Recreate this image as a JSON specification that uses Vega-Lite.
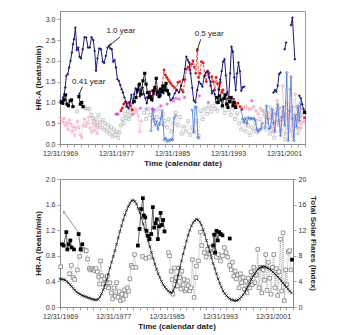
{
"$schema":"https://vega.github.io/schema/vega-lite/v6.json",
"padding":{"left":33,"top":10,"right":5,"bottom":0},
"spacing":6,
"config":{"font":"Liberation Sans","view":{"stroke":"#9a9a9a","strokeWidth":1},
"axis":{"grid":false,"labelFontSize":7,"labelColor":"#333333","titleFontSize":8,"titleFontWeight":"bold","titleColor":"#222222","domainColor":"#8a8a8a","tickColor":"#8a8a8a","tickSize":3,"labelPadding":2,"titlePadding":3,"tickWidth":0.8}},
"datasets":{
"tnavy":[
{"x":1970.1,"y":1.04,"g":1},{"x":1970.3,"y":1.02,"g":1},{"x":1970.45,"y":1.12,"g":1},{"x":1970.6,"y":1.2,"g":1},{"x":1970.75,"y":1.36,"g":1},{"x":1970.9,"y":1.64,"g":1},{"x":1971.1,"y":1.68,"g":1},{"x":1971.3,"y":1.84,"g":1},{"x":1971.5,"y":2.0,"g":1},{"x":1971.7,"y":2.2,"g":1},{"x":1971.85,"y":2.4,"g":1},{"x":1972.0,"y":2.52,"g":1},{"x":1972.2,"y":2.8,"g":1},{"x":1972.4,"y":2.26,"g":1},{"x":1972.6,"y":2.32,"g":1},{"x":1972.8,"y":2.1,"g":1},{"x":1973.0,"y":2.06,"g":1},{"x":1973.25,"y":2.28,"g":1},{"x":1973.5,"y":2.57,"g":1},{"x":1973.75,"y":2.56,"g":1},{"x":1974.0,"y":2.32,"g":1},{"x":1974.25,"y":2.32,"g":1},{"x":1974.5,"y":2.57,"g":1},{"x":1974.75,"y":2.5,"g":1},{"x":1974.95,"y":2.24,"g":1},{"x":1975.15,"y":1.76,"g":1},{"x":1975.35,"y":2.06,"g":1},{"x":1975.6,"y":2.3,"g":1},{"x":1975.85,"y":2.28,"g":1},{"x":1976.1,"y":1.98,"g":1},{"x":1976.3,"y":1.95,"g":1},{"x":1976.55,"y":2.12,"g":1},{"x":1976.8,"y":2.32,"g":1},{"x":1977.0,"y":2.36,"g":1},{"x":1977.2,"y":2.3,"g":1},{"x":1977.4,"y":2.28,"g":1},{"x":1977.6,"y":1.98,"g":1},{"x":1977.8,"y":2.02,"g":1},{"x":1978.0,"y":1.84,"g":1},{"x":1978.2,"y":1.56,"g":1},{"x":1978.4,"y":1.52,"g":1},{"x":1978.6,"y":1.42,"g":1},{"x":1978.8,"y":1.32,"g":1},{"x":1979.0,"y":1.24,"g":1},{"x":1979.2,"y":1.12,"g":1},{"x":1979.4,"y":1.02,"g":1},{"x":1979.6,"y":0.9,"g":1},{"x":1979.8,"y":0.86,"g":1},{"x":1980.0,"y":1.0,"g":1},{"x":1980.2,"y":1.18,"g":1},{"x":1980.4,"y":0.98,"g":1},{"x":1980.6,"y":1.2,"g":1},{"x":1980.8,"y":1.34,"g":1},{"x":1981.0,"y":1.24,"g":1},{"x":1981.2,"y":1.42,"g":1},{"x":1981.4,"y":1.14,"g":1},{"x":1981.6,"y":1.3,"g":1},{"x":1981.8,"y":1.36,"g":1},{"x":1982.0,"y":1.2,"g":1},{"x":1982.2,"y":1.1,"g":1},{"x":1982.4,"y":0.98,"g":1},{"x":1982.6,"y":1.12,"g":1},{"x":1982.8,"y":1.26,"g":1},{"x":1983.0,"y":1.06,"g":1},{"x":1983.2,"y":1.04,"g":1},{"x":1983.4,"y":1.2,"g":1},{"x":1983.6,"y":1.34,"g":1},{"x":1983.8,"y":1.18,"g":1},{"x":1984.0,"y":1.24,"g":1},{"x":1984.2,"y":1.3,"g":1},{"x":1984.4,"y":1.16,"g":1},{"x":1984.6,"y":1.36,"g":1},{"x":1984.8,"y":1.22,"g":1},{"x":1985.0,"y":1.4,"g":1},{"x":1985.2,"y":1.28,"g":1},{"x":1985.5,"y":1.2,"g":1},{"x":1985.8,"y":1.05,"g":1},{"x":1986.1,"y":1.1,"g":1},{"x":1986.4,"y":1.22,"g":1},{"x":1986.7,"y":1.3,"g":1},{"x":1987.0,"y":1.24,"g":1},{"x":1987.3,"y":1.4,"g":1},{"x":1987.6,"y":1.55,"g":1},{"x":1987.85,"y":1.8,"g":1},{"x":1988.05,"y":2.1,"g":1},{"x":1988.25,"y":2.02,"g":1},{"x":1988.45,"y":1.96,"g":1},{"x":1988.65,"y":1.7,"g":1},{"x":1988.9,"y":1.35,"g":1},{"x":1989.1,"y":1.05,"g":1},{"x":1989.35,"y":1.0,"g":1},{"x":1989.6,"y":1.3,"g":1},{"x":1989.85,"y":1.5,"g":1},{"x":1990.1,"y":1.45,"g":1},{"x":1990.35,"y":1.38,"g":1},{"x":1990.6,"y":1.62,"g":1},{"x":1990.85,"y":1.72,"g":1},{"x":1991.1,"y":1.75,"g":1},{"x":1991.3,"y":1.6,"g":1},{"x":1991.5,"y":1.5,"g":1},{"x":1991.7,"y":1.22,"g":1},{"x":1991.9,"y":1.28,"g":1},{"x":1992.1,"y":1.2,"g":1},{"x":1992.3,"y":1.0,"g":1},{"x":1992.5,"y":0.98,"g":1},{"x":1992.7,"y":1.3,"g":1},{"x":1992.9,"y":1.55,"g":1},{"x":1993.1,"y":1.75,"g":1},{"x":1993.3,"y":1.98,"g":1},{"x":1993.5,"y":2.04,"g":1},{"x":1993.7,"y":1.65,"g":1},{"x":1993.9,"y":1.25,"g":1},{"x":1994.1,"y":1.1,"g":1},{"x":1994.3,"y":1.7,"g":1},{"x":1994.5,"y":2.34,"g":1},{"x":1994.7,"y":2.22,"g":1},{"x":1994.9,"y":1.6,"g":1},{"x":1995.1,"y":1.3,"g":1},{"x":1995.3,"y":1.7,"g":1},{"x":1995.5,"y":1.96,"g":1},{"x":1995.7,"y":1.75,"g":1},{"x":1995.9,"y":1.28,"g":1},{"x":1996.1,"y":1.36,"g":1},{"x":1996.3,"y":1.38,"g":1},
{"x":2000.5,"y":1.24,"g":2},{"x":2000.7,"y":1.3,"g":2},{"x":2000.9,"y":1.26,"g":2},{"x":2001.1,"y":1.4,"g":2},{"x":2001.3,"y":1.68,"g":2},{"x":2001.5,"y":1.72,"g":2},
{"x":2002.1,"y":2.28,"g":3},{"x":2002.3,"y":2.44,"g":3},
{"x":2003.0,"y":2.86,"g":4},{"x":2003.2,"y":3.04,"g":4},{"x":2003.55,"y":2.04,"g":4},
{"x":2004.2,"y":1.16,"g":5},{"x":2004.4,"y":1.1,"g":5},{"x":2004.6,"y":0.95,"g":5},{"x":2004.8,"y":0.84,"g":5},{"x":2004.95,"y":0.78,"g":5}],
"tblack":[
{"x":1970.2,"y":1.0,"g":1},{"x":1970.4,"y":0.98,"g":1},{"x":1970.6,"y":1.06,"g":1},{"x":1970.8,"y":1.18,"g":1},{"x":1971.0,"y":0.96,"g":1},{"x":1971.2,"y":0.92,"g":1},{"x":1971.45,"y":1.04,"g":1},{"x":1971.65,"y":1.06,"g":1},{"x":1971.85,"y":0.9,"g":1},
{"x":1972.7,"y":1.14,"g":2},{"x":1972.9,"y":0.96,"g":2},{"x":1973.1,"y":1.0,"g":2},{"x":1973.3,"y":0.9,"g":2},
{"x":1980.6,"y":1.02,"g":3},{"x":1980.85,"y":1.12,"g":3},{"x":1981.1,"y":1.3,"g":3},{"x":1981.35,"y":1.44,"g":3},{"x":1981.6,"y":1.2,"g":3},{"x":1981.85,"y":1.52,"g":3},{"x":1982.1,"y":1.7,"g":3},{"x":1982.3,"y":1.44,"g":3},{"x":1982.5,"y":1.24,"g":3},{"x":1982.7,"y":1.12,"g":3},{"x":1982.9,"y":1.14,"g":3},{"x":1983.1,"y":1.08,"g":3},{"x":1983.35,"y":1.28,"g":3},{"x":1983.55,"y":1.36,"g":3},{"x":1983.75,"y":1.58,"g":3},{"x":1983.95,"y":1.24,"g":3},{"x":1984.15,"y":1.14,"g":3},{"x":1984.35,"y":1.32,"g":3},{"x":1984.55,"y":1.26,"g":3},{"x":1984.75,"y":1.4,"g":3},{"x":1984.95,"y":1.3,"g":3},{"x":1985.15,"y":1.46,"g":3},{"x":1985.35,"y":1.28,"g":3},{"x":1985.55,"y":1.2,"g":3},
{"x":1992.4,"y":1.12,"g":4},{"x":1992.6,"y":1.0,"g":4},{"x":1992.8,"y":1.16,"g":4},{"x":1993.0,"y":1.06,"g":4},{"x":1993.2,"y":0.92,"g":4},{"x":1993.4,"y":1.1,"g":4},{"x":1993.6,"y":1.18,"g":4},{"x":1993.8,"y":0.96,"g":4},{"x":1994.0,"y":0.88,"g":4},{"x":1994.2,"y":1.02,"g":4},{"x":1994.45,"y":1.12,"g":4},{"x":1994.7,"y":0.92,"g":4},{"x":1994.9,"y":1.0,"g":4},{"x":1995.1,"y":0.88,"g":4},
{"x":2004.95,"y":0.76,"g":5}],
"tred":[
{"x":1978.7,"y":0.8,"g":1},{"x":1978.9,"y":0.86,"g":1},{"x":1979.1,"y":0.96,"g":1},{"x":1979.3,"y":1.0,"g":1},{"x":1979.5,"y":0.9,"g":1},{"x":1979.7,"y":0.98,"g":1},{"x":1979.9,"y":1.0,"g":1},{"x":1980.1,"y":0.92,"g":1},{"x":1980.3,"y":0.82,"g":1},
{"x":1982.5,"y":1.12,"g":2},{"x":1982.8,"y":1.2,"g":2},{"x":1983.1,"y":1.28,"g":2},{"x":1983.4,"y":1.22,"g":2},{"x":1983.7,"y":1.3,"g":2},{"x":1984.0,"y":1.25,"g":2},{"x":1984.3,"y":1.2,"g":2},{"x":1984.6,"y":1.4,"g":2},{"x":1984.85,"y":1.78,"g":2},{"x":1985.05,"y":1.66,"g":2},{"x":1985.25,"y":1.6,"g":2},{"x":1985.45,"y":1.55,"g":2},{"x":1985.65,"y":1.5,"g":2},{"x":1985.85,"y":1.45,"g":2},{"x":1986.1,"y":1.4,"g":2},{"x":1986.35,"y":1.36,"g":2},{"x":1986.6,"y":1.3,"g":2},{"x":1986.85,"y":1.48,"g":2},{"x":1987.1,"y":1.5,"g":2},{"x":1987.35,"y":1.3,"g":2},{"x":1987.6,"y":1.25,"g":2},{"x":1987.85,"y":1.55,"g":2},{"x":1988.05,"y":1.8,"g":2},{"x":1988.3,"y":1.85,"g":2},{"x":1988.55,"y":1.78,"g":2},{"x":1988.8,"y":1.92,"g":2},{"x":1989.0,"y":2.0,"g":2},{"x":1989.2,"y":1.85,"g":2},{"x":1989.4,"y":1.7,"g":2},{"x":1989.6,"y":2.25,"g":2},{"x":1989.8,"y":1.6,"g":2},{"x":1990.0,"y":1.7,"g":2},{"x":1990.2,"y":1.98,"g":2},{"x":1990.45,"y":1.95,"g":2},{"x":1990.7,"y":1.65,"g":2},{"x":1990.9,"y":1.5,"g":2},{"x":1991.1,"y":1.75,"g":2},{"x":1991.3,"y":1.7,"g":2},{"x":1991.5,"y":1.4,"g":2},{"x":1991.7,"y":1.62,"g":2},{"x":1991.9,"y":1.5,"g":2},{"x":1992.1,"y":1.3,"g":2},{"x":1992.3,"y":1.6,"g":2},{"x":1992.5,"y":1.45,"g":2},{"x":1992.7,"y":1.32,"g":2},{"x":1992.9,"y":1.48,"g":2},{"x":1993.1,"y":1.24,"g":2},{"x":1993.3,"y":1.3,"g":2},{"x":1993.5,"y":1.1,"g":2},{"x":1993.7,"y":1.2,"g":2},{"x":1993.9,"y":1.08,"g":2},{"x":1994.2,"y":1.12,"g":2},{"x":1994.5,"y":1.0,"g":2},{"x":1994.8,"y":1.08,"g":2},{"x":1995.1,"y":0.92,"g":2},{"x":1995.4,"y":0.98,"g":2},{"x":1995.7,"y":0.9,"g":2},{"x":1996.0,"y":0.84,"g":2},
{"x":2004.95,"y":0.63,"g":3}],
"tmag":[
{"x":1978.0,"y":0.72},{"x":1978.15,"y":0.72},{"x":1978.3,"y":0.72},{"x":1980.4,"y":0.72},{"x":1981.5,"y":0.86},{"x":1983.2,"y":0.84},{"x":1983.45,"y":0.82},{"x":1984.4,"y":0.92},{"x":1985.3,"y":0.96},{"x":1986.2,"y":1.04},{"x":1986.55,"y":1.1},{"x":1987.0,"y":1.08},{"x":1987.8,"y":1.12},{"x":1989.9,"y":1.16},{"x":1991.2,"y":1.0},{"x":1997.4,"y":1.04}],
"tblue":[
{"x":1982.3,"y":0.84,"g":0},
{"x":1983.0,"y":0.32,"g":1},{"x":1983.2,"y":0.85,"g":1},{"x":1983.4,"y":0.6,"g":1},{"x":1983.6,"y":0.45,"g":1},{"x":1983.8,"y":0.55,"g":1},{"x":1984.0,"y":0.35,"g":1},{"x":1984.2,"y":0.48,"g":1},{"x":1984.4,"y":0.62,"g":1},{"x":1984.6,"y":0.8,"g":1},{"x":1984.75,"y":0.45,"g":1},{"x":1984.9,"y":0.1,"g":1},{"x":1985.1,"y":0.14,"g":1},{"x":1985.3,"y":0.06,"g":1},{"x":1985.5,"y":0.1,"g":1},{"x":1985.7,"y":0.08,"g":1},{"x":1985.9,"y":0.12,"g":1},{"x":1986.1,"y":0.1,"g":1},{"x":1986.3,"y":0.62,"g":1},{"x":1986.5,"y":0.68,"g":1},
{"x":1988.9,"y":0.82,"g":2},{"x":1989.1,"y":0.28,"g":2},{"x":1989.3,"y":0.9,"g":2},{"x":1989.5,"y":0.88,"g":2},{"x":1989.7,"y":0.16,"g":2},{"x":1989.85,"y":0.14,"g":2},
{"x":1995.9,"y":0.82,"g":3},{"x":1996.1,"y":0.6,"g":3},{"x":1996.3,"y":0.52,"g":3},{"x":1996.5,"y":0.62,"g":3},{"x":1996.7,"y":0.48,"g":3},{"x":1996.9,"y":0.64,"g":3},{"x":1997.1,"y":0.6,"g":3},{"x":1997.3,"y":0.62,"g":3},{"x":1997.5,"y":0.6,"g":3},{"x":1997.7,"y":0.62,"g":3},{"x":1997.9,"y":0.58,"g":3},{"x":1998.1,"y":0.36,"g":3},{"x":1998.3,"y":0.3,"g":3},{"x":1998.5,"y":0.34,"g":3},{"x":1998.7,"y":0.36,"g":3},{"x":1998.9,"y":0.5,"g":3},
{"x":1999.3,"y":0.4,"g":4},{"x":1999.5,"y":0.92,"g":4},{"x":1999.7,"y":0.6,"g":4},{"x":1999.9,"y":0.36,"g":4},{"x":2000.1,"y":0.4,"g":4},{"x":2000.3,"y":0.84,"g":4},{"x":2000.5,"y":0.5,"g":4},{"x":2000.7,"y":0.3,"g":4},{"x":2000.9,"y":0.72,"g":4},{"x":2001.1,"y":0.95,"g":4},{"x":2001.3,"y":0.56,"g":4},{"x":2001.5,"y":0.2,"g":4},{"x":2001.7,"y":0.64,"g":4},{"x":2001.9,"y":0.9,"g":4},{"x":2002.1,"y":0.45,"g":4},{"x":2002.4,"y":1.72,"g":4},{"x":2002.6,"y":0.08,"g":4},{"x":2002.8,"y":0.8,"g":4},{"x":2003.0,"y":1.62,"g":4},{"x":2003.2,"y":0.62,"g":4},{"x":2003.4,"y":0.08,"g":4},{"x":2003.6,"y":0.7,"g":4},{"x":2003.8,"y":0.4,"g":4},{"x":2004.0,"y":0.9,"g":4},{"x":2004.2,"y":0.55,"g":4},{"x":2004.4,"y":1.0,"g":4}],
"tpink":[
{"x":1970.05,"y":0.64,"g":1},{"x":1970.25,"y":0.58,"g":1},{"x":1970.45,"y":0.5,"g":1},{"x":1970.6,"y":0.62,"g":1},{"x":1970.8,"y":0.44,"g":1},{"x":1971.0,"y":0.52,"g":1},{"x":1971.15,"y":0.35,"g":1},{"x":1971.35,"y":0.58,"g":1},{"x":1971.55,"y":0.48,"g":1},{"x":1971.7,"y":0.3,"g":1},{"x":1971.9,"y":0.42,"g":1},{"x":1972.1,"y":0.2,"g":1},{"x":1972.3,"y":0.38,"g":1},{"x":1972.5,"y":0.55,"g":1},{"x":1972.7,"y":0.4,"g":1},{"x":1972.9,"y":0.22,"g":1},{"x":1973.1,"y":0.15,"g":1},{"x":1973.3,"y":0.45,"g":1},{"x":1973.5,"y":0.6,"g":1},{"x":1973.7,"y":0.42,"g":1},{"x":1973.9,"y":0.5,"g":1},{"x":1974.1,"y":0.64,"g":1},{"x":1974.3,"y":0.38,"g":1},{"x":1974.5,"y":0.28,"g":1},{"x":1974.7,"y":0.5,"g":1},{"x":1974.9,"y":0.32,"g":1},{"x":1975.1,"y":0.45,"g":1},{"x":1975.3,"y":0.25,"g":1},{"x":1975.5,"y":0.4,"g":1},
{"x":1980.6,"y":0.85,"g":2},{"x":1980.8,"y":0.75,"g":2},{"x":1981.0,"y":0.82,"g":2},{"x":1981.2,"y":0.68,"g":2},{"x":1981.4,"y":0.3,"g":2},{"x":1981.6,"y":0.55,"g":2},
{"x":1995.9,"y":0.9,"g":3},{"x":1996.2,"y":0.85,"g":3},{"x":1996.5,"y":0.92,"g":3},{"x":1996.8,"y":0.86,"g":3},{"x":1997.1,"y":0.82,"g":3},{"x":1997.4,"y":0.86,"g":3},{"x":1997.7,"y":0.9,"g":3},{"x":1998.0,"y":0.8,"g":3},{"x":1998.3,"y":0.72,"g":3},{"x":1998.6,"y":0.86,"g":3},{"x":1998.9,"y":0.8,"g":3},{"x":1999.2,"y":0.7,"g":3},{"x":1999.5,"y":0.5,"g":3},{"x":1999.8,"y":0.75,"g":3},{"x":2000.0,"y":0.9,"g":3},{"x":2000.2,"y":0.6,"g":3},{"x":2000.4,"y":0.3,"g":3},{"x":2000.6,"y":0.78,"g":3},{"x":2000.8,"y":0.55,"g":3},{"x":2001.0,"y":1.05,"g":3},{"x":2001.2,"y":0.45,"g":3},{"x":2001.4,"y":0.88,"g":3},{"x":2001.6,"y":0.35,"g":3},{"x":2001.8,"y":1.4,"g":3},{"x":2002.0,"y":0.7,"g":3},{"x":2002.2,"y":0.25,"g":3},{"x":2002.4,"y":1.0,"g":3},{"x":2002.6,"y":0.6,"g":3},{"x":2002.8,"y":1.32,"g":3},{"x":2003.0,"y":0.3,"g":3},{"x":2003.2,"y":0.9,"g":3},{"x":2003.4,"y":0.45,"g":3},{"x":2003.6,"y":1.2,"g":3},{"x":2003.8,"y":0.6,"g":3},{"x":2004.0,"y":0.25,"g":3},{"x":2004.2,"y":0.95,"g":3},{"x":2004.4,"y":0.4,"g":3},{"x":2004.6,"y":0.85,"g":3},{"x":2004.8,"y":0.55,"g":3}],
"tgray":[
{"x":1972.4,"y":0.78,"g":1},{"x":1973.3,"y":0.9,"g":1},{"x":1973.6,"y":0.86,"g":1},{"x":1973.9,"y":0.85,"g":1},{"x":1974.2,"y":0.84,"g":1},{"x":1974.5,"y":0.7,"g":1},{"x":1974.7,"y":0.62,"g":1},{"x":1974.9,"y":0.55,"g":1},{"x":1975.1,"y":0.6,"g":1},{"x":1975.3,"y":0.45,"g":1},{"x":1975.5,"y":0.7,"g":1},{"x":1975.7,"y":0.52,"g":1},{"x":1975.9,"y":0.4,"g":1},{"x":1976.1,"y":0.58,"g":1},{"x":1976.3,"y":0.35,"g":1},{"x":1976.5,"y":0.5,"g":1},{"x":1976.7,"y":0.3,"g":1},{"x":1976.9,"y":0.45,"g":1},{"x":1977.1,"y":0.25,"g":1},{"x":1977.3,"y":0.4,"g":1},{"x":1977.5,"y":0.18,"g":1},{"x":1977.7,"y":0.35,"g":1},{"x":1977.9,"y":0.22,"g":1},{"x":1978.1,"y":0.3,"g":1},{"x":1978.3,"y":0.15,"g":1},{"x":1978.5,"y":0.28,"g":1},{"x":1978.7,"y":0.45,"g":1},{"x":1978.9,"y":0.6,"g":1},{"x":1979.1,"y":0.5,"g":1},{"x":1979.3,"y":0.72,"g":1},{"x":1979.5,"y":0.62,"g":1},{"x":1979.7,"y":0.78,"g":1},{"x":1979.9,"y":0.6,"g":1},{"x":1980.1,"y":0.7,"g":1},{"x":1980.3,"y":0.82,"g":1},
{"x":1982.0,"y":0.75,"g":2},{"x":1982.3,"y":0.6,"g":2},{"x":1982.6,"y":0.85,"g":2},{"x":1982.9,"y":0.7,"g":2},{"x":1983.2,"y":0.55,"g":2},{"x":1983.5,"y":0.8,"g":2},{"x":1983.8,"y":0.65,"g":2},{"x":1984.1,"y":0.85,"g":2},{"x":1984.4,"y":0.5,"g":2},{"x":1984.7,"y":0.72,"g":2},{"x":1985.0,"y":0.55,"g":2},{"x":1985.3,"y":0.4,"g":2},{"x":1985.6,"y":0.6,"g":2},{"x":1985.9,"y":0.3,"g":2},{"x":1986.2,"y":0.5,"g":2},{"x":1986.5,"y":0.75,"g":2},{"x":1986.8,"y":0.45,"g":2},{"x":1987.1,"y":0.65,"g":2},{"x":1987.4,"y":0.25,"g":2},{"x":1987.7,"y":0.42,"g":2},{"x":1988.0,"y":0.3,"g":2},{"x":1988.3,"y":0.55,"g":2},{"x":1988.6,"y":0.22,"g":2},{"x":1988.9,"y":0.4,"g":2},{"x":1989.2,"y":0.3,"g":2},{"x":1989.5,"y":0.55,"g":2},{"x":1989.8,"y":0.2,"g":2},{"x":1990.1,"y":0.8,"g":2},{"x":1990.4,"y":0.6,"g":2},{"x":1990.7,"y":0.85,"g":2},{"x":1991.0,"y":0.72,"g":2},{"x":1991.3,"y":0.9,"g":2},{"x":1991.6,"y":0.78,"g":2},{"x":1991.9,"y":0.92,"g":2},{"x":1992.2,"y":0.85,"g":2},{"x":1992.5,"y":0.8,"g":2},
{"x":1993.2,"y":0.88,"g":3},{"x":1993.5,"y":0.75,"g":3},{"x":1993.8,"y":0.92,"g":3},{"x":1994.1,"y":0.82,"g":3},{"x":1994.4,"y":0.7,"g":3},{"x":1994.7,"y":0.86,"g":3},{"x":1995.0,"y":0.6,"g":3},{"x":1995.3,"y":0.74,"g":3},{"x":1995.6,"y":0.5,"g":3},{"x":1995.9,"y":0.35,"g":3},{"x":1996.2,"y":0.55,"g":3},{"x":1996.5,"y":0.3,"g":3},{"x":1996.8,"y":0.45,"g":3},{"x":1997.1,"y":0.22,"g":3},{"x":1997.4,"y":0.4,"g":3},{"x":1997.7,"y":0.3,"g":3},{"x":1997.9,"y":0.5,"g":3},{"x":1998.2,"y":0.28,"g":3},{"x":1998.5,"y":0.6,"g":3},{"x":1998.8,"y":0.4,"g":3},{"x":1999.1,"y":0.8,"g":3},{"x":1999.4,"y":0.35,"g":3},{"x":1999.7,"y":0.65,"g":3},{"x":2000.0,"y":0.25,"g":3},{"x":2000.3,"y":0.7,"g":3},{"x":2000.6,"y":0.15,"g":3},{"x":2000.9,"y":0.5,"g":3},{"x":2001.2,"y":0.85,"g":3},{"x":2001.5,"y":0.3,"g":3},{"x":2001.8,"y":0.6,"g":3},{"x":2002.1,"y":0.12,"g":3},{"x":2002.4,"y":0.7,"g":3},{"x":2002.7,"y":0.4,"g":3},{"x":2003.0,"y":0.85,"g":3},{"x":2003.3,"y":0.2,"g":3},{"x":2003.6,"y":0.6,"g":3},{"x":2003.9,"y":0.9,"g":3},{"x":2004.2,"y":0.35,"g":3},{"x":2004.5,"y":0.7,"g":3},{"x":2004.8,"y":0.5,"g":3}],
"ttext":[{"x":1978.7,"y":2.72,"t":"1.0 year"},{"x":1974.1,"y":1.49,"t":"0.41 year"},{"x":1991.3,"y":2.64,"t":"0.5 year"}],
"tarrow":[{"id":1,"x":1977.2,"y":2.39,"x2":1978.6,"y2":2.58},{"id":2,"x":1972.75,"y":1.2,"x2":1973.2,"y2":1.38},{"id":3,"x":1989.65,"y":2.28,"x2":1990.1,"y2":2.52}],
"flare":[
{"x":1970.0,"f":4.4},{"x":1970.25,"f":4.35},{"x":1970.5,"f":4.3},{"x":1970.75,"f":4.2},{"x":1971.0,"f":4.0},{"x":1971.25,"f":3.8},{"x":1971.5,"f":3.5},{"x":1971.75,"f":3.2},{"x":1972.0,"f":2.9},{"x":1972.25,"f":2.6},{"x":1972.5,"f":2.35},{"x":1972.75,"f":2.15},{"x":1973.0,"f":2.0},{"x":1973.25,"f":1.85},{"x":1973.5,"f":1.75},{"x":1973.75,"f":1.65},{"x":1974.0,"f":1.55},{"x":1974.25,"f":1.45},{"x":1974.5,"f":1.35},{"x":1974.75,"f":1.25},{"x":1975.0,"f":1.2},{"x":1975.25,"f":1.12},{"x":1975.5,"f":1.1},{"x":1975.75,"f":1.2},{"x":1976.0,"f":1.6},{"x":1976.25,"f":2.1},{"x":1976.5,"f":2.7},{"x":1976.75,"f":3.4},{"x":1977.0,"f":4.2},{"x":1977.25,"f":5.1},{"x":1977.5,"f":6.1},{"x":1977.75,"f":7.0},{"x":1978.0,"f":7.9},{"x":1978.25,"f":8.8},{"x":1978.5,"f":9.8},{"x":1978.75,"f":10.8},{"x":1979.0,"f":11.8},{"x":1979.25,"f":12.7},{"x":1979.5,"f":13.6},{"x":1979.75,"f":14.4},{"x":1980.0,"f":15.1},{"x":1980.25,"f":15.7},{"x":1980.5,"f":16.2},{"x":1980.75,"f":16.6},{"x":1981.0,"f":16.7},{"x":1981.25,"f":16.5},{"x":1981.5,"f":16.1},{"x":1981.75,"f":15.4},{"x":1982.0,"f":14.7},{"x":1982.25,"f":13.9},{"x":1982.5,"f":13.0},{"x":1982.75,"f":12.1},{"x":1983.0,"f":11.2},{"x":1983.25,"f":10.3},{"x":1983.5,"f":9.4},{"x":1983.75,"f":8.5},{"x":1984.0,"f":7.6},{"x":1984.25,"f":6.7},{"x":1984.5,"f":5.9},{"x":1984.75,"f":5.2},{"x":1985.0,"f":4.6},{"x":1985.25,"f":4.0},{"x":1985.5,"f":3.5},{"x":1985.75,"f":3.1},{"x":1986.0,"f":2.8},{"x":1986.25,"f":2.5},{"x":1986.5,"f":2.3},{"x":1986.75,"f":2.2},{"x":1987.0,"f":2.5},{"x":1987.25,"f":3.1},{"x":1987.5,"f":4.0},{"x":1987.75,"f":5.0},{"x":1988.0,"f":6.1},{"x":1988.25,"f":7.2},{"x":1988.5,"f":8.3},{"x":1988.75,"f":9.3},{"x":1989.0,"f":10.3},{"x":1989.25,"f":11.2},{"x":1989.5,"f":12.0},{"x":1989.75,"f":12.7},{"x":1990.0,"f":13.2},{"x":1990.25,"f":13.5},{"x":1990.5,"f":13.7},{"x":1990.75,"f":13.6},{"x":1991.0,"f":13.3},{"x":1991.25,"f":12.8},{"x":1991.5,"f":12.1},{"x":1991.75,"f":11.3},{"x":1992.0,"f":10.4},{"x":1992.25,"f":9.5},{"x":1992.5,"f":8.6},{"x":1992.75,"f":7.7},{"x":1993.0,"f":6.8},{"x":1993.25,"f":6.0},{"x":1993.5,"f":5.2},{"x":1993.75,"f":4.4},{"x":1994.0,"f":3.7},{"x":1994.25,"f":3.1},{"x":1994.5,"f":2.5},{"x":1994.75,"f":2.1},{"x":1995.0,"f":1.8},{"x":1995.25,"f":1.5},{"x":1995.5,"f":1.3},{"x":1995.75,"f":1.15},{"x":1996.0,"f":1.05},{"x":1996.25,"f":1.0},{"x":1996.5,"f":1.0},{"x":1996.75,"f":1.1},{"x":1997.0,"f":1.3},{"x":1997.25,"f":1.6},{"x":1997.5,"f":1.9},{"x":1997.75,"f":2.3},{"x":1998.0,"f":2.8},{"x":1998.25,"f":3.3},{"x":1998.5,"f":3.8},{"x":1998.75,"f":4.3},{"x":1999.0,"f":4.8},{"x":1999.25,"f":5.2},{"x":1999.5,"f":5.6},{"x":1999.75,"f":5.9},{"x":2000.0,"f":6.1},{"x":2000.25,"f":6.25},{"x":2000.5,"f":6.3},{"x":2000.75,"f":6.3},{"x":2001.0,"f":6.2},{"x":2001.25,"f":6.05},{"x":2001.5,"f":5.9},{"x":2001.75,"f":5.7},{"x":2002.0,"f":5.45},{"x":2002.25,"f":5.2},{"x":2002.5,"f":4.95},{"x":2002.75,"f":4.7},{"x":2003.0,"f":4.4},{"x":2003.25,"f":4.05},{"x":2003.5,"f":3.75},{"x":2003.75,"f":3.45},{"x":2004.0,"f":3.15},{"x":2004.25,"f":2.8},{"x":2004.5,"f":2.5},{"x":2004.75,"f":2.2}],
"bblack":[
{"x":1970.3,"y":0.98,"g":1},{"x":1970.55,"y":0.96,"g":1},{"x":1970.95,"y":1.17,"g":1},{"x":1971.1,"y":0.9,"g":1},{"x":1971.3,"y":0.98,"g":1},{"x":1971.55,"y":1.04,"g":1},{"x":1971.75,"y":0.93,"g":1},{"x":1972.1,"y":0.9,"g":1},
{"x":1972.8,"y":1.14,"g":2},{"x":1973.1,"y":0.9,"g":2},{"x":1973.35,"y":0.98,"g":2},
{"x":1981.7,"y":0.96,"g":3},{"x":1981.95,"y":1.22,"g":3},{"x":1982.2,"y":1.53,"g":3},{"x":1982.45,"y":1.7,"g":3},{"x":1982.6,"y":1.43,"g":3},{"x":1982.8,"y":1.4,"g":3},{"x":1983.0,"y":1.19,"g":3},{"x":1983.25,"y":1.11,"g":3},{"x":1983.45,"y":1.06,"g":3},{"x":1983.7,"y":1.14,"g":3},{"x":1983.95,"y":1.56,"g":3},{"x":1984.15,"y":1.24,"g":3},{"x":1984.35,"y":1.31,"g":3},{"x":1984.55,"y":1.37,"g":3},{"x":1984.7,"y":1.06,"g":3},{"x":1984.9,"y":1.26,"g":3},{"x":1985.1,"y":1.47,"g":3},{"x":1985.3,"y":1.28,"g":3},{"x":1985.5,"y":1.36,"g":3},{"x":1985.7,"y":1.18,"g":3},
{"x":1993.0,"y":0.96,"g":4},{"x":1993.15,"y":1.13,"g":4},{"x":1993.3,"y":0.85,"g":4},{"x":1993.5,"y":1.19,"g":4},{"x":1993.7,"y":1.04,"g":4},{"x":1993.9,"y":1.17,"g":4},{"x":1994.15,"y":1.14,"g":4},{"x":1994.4,"y":1.12,"g":4},
{"x":1995.5,"y":1.07,"g":5},
{"x":2004.85,"y":0.74,"g":6}],
"bgray":[
{"x":1970.1,"y":0.63,"g":1},
{"x":1971.45,"y":0.52,"g":2},{"x":1971.7,"y":0.65,"g":2},{"x":1971.95,"y":0.46,"g":2},{"x":1972.2,"y":0.43,"g":2},{"x":1972.6,"y":0.58,"g":2},{"x":1972.95,"y":0.79,"g":2},{"x":1973.2,"y":0.9,"g":2},{"x":1973.45,"y":0.9,"g":2},{"x":1973.7,"y":0.89,"g":2},{"x":1973.95,"y":0.88,"g":2},{"x":1974.15,"y":0.75,"g":2},{"x":1974.4,"y":0.6,"g":2},{"x":1974.6,"y":0.58,"g":2},{"x":1974.8,"y":0.6,"g":2},{"x":1975.0,"y":0.58,"g":2},{"x":1975.2,"y":0.57,"g":2},{"x":1975.4,"y":0.6,"g":2},{"x":1975.6,"y":0.55,"g":2},{"x":1975.8,"y":0.47,"g":2},{"x":1975.95,"y":0.36,"g":2},{"x":1976.1,"y":0.72,"g":2},{"x":1976.3,"y":0.49,"g":2},{"x":1976.5,"y":0.36,"g":2},{"x":1976.7,"y":0.44,"g":2},{"x":1976.9,"y":0.32,"g":2},{"x":1977.1,"y":0.48,"g":2},{"x":1977.3,"y":0.3,"g":2},{"x":1977.5,"y":0.38,"g":2},{"x":1977.7,"y":0.22,"g":2},{"x":1977.9,"y":0.13,"g":2},{"x":1978.1,"y":0.3,"g":2},{"x":1978.3,"y":0.17,"g":2},{"x":1978.5,"y":0.38,"g":2},{"x":1978.7,"y":0.15,"g":2},{"x":1978.9,"y":0.24,"g":2},{"x":1979.1,"y":0.1,"g":2},{"x":1979.3,"y":0.2,"g":2},{"x":1979.5,"y":0.12,"g":2},{"x":1979.7,"y":0.27,"g":2},{"x":1979.9,"y":0.18,"g":2},{"x":1980.1,"y":0.3,"g":2},{"x":1980.3,"y":0.25,"g":2},{"x":1980.5,"y":0.44,"g":2},{"x":1980.7,"y":0.65,"g":2},{"x":1980.9,"y":0.62,"g":2},{"x":1981.2,"y":0.82,"g":2},{"x":1981.4,"y":0.62,"g":2},
{"x":1982.4,"y":0.79,"g":3},{"x":1982.9,"y":0.76,"g":3},{"x":1983.4,"y":0.78,"g":3},
{"x":1986.3,"y":0.85,"g":4},{"x":1986.45,"y":0.8,"g":4},{"x":1986.7,"y":0.56,"g":4},{"x":1986.85,"y":0.43,"g":4},{"x":1986.95,"y":0.2,"g":4},{"x":1987.2,"y":0.61,"g":4},{"x":1987.35,"y":0.41,"g":4},{"x":1987.45,"y":0.46,"g":4},{"x":1987.65,"y":0.33,"g":4},{"x":1987.8,"y":0.61,"g":4},{"x":1988.0,"y":0.46,"g":4},{"x":1988.15,"y":0.28,"g":4},{"x":1988.3,"y":0.56,"g":4},{"x":1988.5,"y":0.35,"g":4},{"x":1988.65,"y":0.43,"g":4},{"x":1988.8,"y":0.25,"g":4},{"x":1989.0,"y":0.28,"g":4},{"x":1989.15,"y":0.41,"g":4},{"x":1989.3,"y":0.33,"g":4},{"x":1989.5,"y":0.25,"g":4},{"x":1989.65,"y":0.3,"g":4},{"x":1989.9,"y":0.74,"g":4},{"x":1990.15,"y":0.15,"g":4},{"x":1990.4,"y":0.46,"g":4},{"x":1990.5,"y":0.64,"g":4},{"x":1990.8,"y":0.72,"g":4},{"x":1991.1,"y":1.17,"g":4},{"x":1991.3,"y":0.96,"g":4},{"x":1991.7,"y":0.85,"g":4},{"x":1991.95,"y":0.78,"g":4},{"x":1992.2,"y":0.9,"g":4},{"x":1992.5,"y":0.83,"g":4},{"x":1992.7,"y":0.93,"g":4},{"x":1992.95,"y":0.85,"g":4},{"x":1993.2,"y":0.88,"g":4},{"x":1993.5,"y":0.78,"g":4},{"x":1993.8,"y":0.82,"g":4},{"x":1994.1,"y":0.72,"g":4},{"x":1994.4,"y":0.8,"g":4},{"x":1994.7,"y":0.93,"g":4},{"x":1994.95,"y":0.85,"g":4},{"x":1995.2,"y":0.78,"g":4},{"x":1995.5,"y":0.65,"g":4},{"x":1995.7,"y":0.58,"g":4},{"x":1995.9,"y":0.7,"g":4},{"x":1996.1,"y":0.48,"g":4},{"x":1996.3,"y":0.56,"g":4},{"x":1996.5,"y":0.44,"g":4},{"x":1996.7,"y":0.5,"g":4},{"x":1996.9,"y":0.3,"g":4},{"x":1997.1,"y":0.52,"g":4},{"x":1997.3,"y":0.38,"g":4},{"x":1997.5,"y":0.46,"g":4},{"x":1997.7,"y":0.28,"g":4},{"x":1997.9,"y":0.4,"g":4},{"x":1998.1,"y":0.22,"g":4},{"x":1998.3,"y":0.45,"g":4},{"x":1998.5,"y":0.3,"g":4},{"x":1998.7,"y":0.55,"g":4},{"x":1998.9,"y":0.35,"g":4},{"x":1999.1,"y":0.62,"g":4},{"x":1999.3,"y":0.38,"g":4},{"x":1999.5,"y":0.5,"g":4},{"x":1999.7,"y":0.9,"g":4},{"x":1999.9,"y":0.3,"g":4},{"x":2000.1,"y":0.62,"g":4},{"x":2000.3,"y":0.22,"g":4},{"x":2000.5,"y":0.58,"g":4},{"x":2000.7,"y":0.42,"g":4},{"x":2000.9,"y":0.82,"g":4},{"x":2001.1,"y":0.26,"g":4},{"x":2001.3,"y":0.7,"g":4},{"x":2001.5,"y":0.45,"g":4},{"x":2001.7,"y":0.2,"g":4},{"x":2001.9,"y":0.62,"g":4},{"x":2002.1,"y":0.82,"g":4},{"x":2002.3,"y":0.3,"g":4},{"x":2002.5,"y":0.6,"g":4},{"x":2002.7,"y":0.18,"g":4},{"x":2002.9,"y":0.55,"g":4},{"x":2003.1,"y":1.06,"g":4},{"x":2003.3,"y":0.25,"g":4},{"x":2003.5,"y":1.16,"g":4},{"x":2003.7,"y":0.1,"g":4},{"x":2003.9,"y":0.58,"g":4},{"x":2004.1,"y":0.35,"g":4},{"x":2004.3,"y":0.86,"g":4},{"x":2004.5,"y":0.88,"g":4},{"x":2004.7,"y":0.58,"g":4}],
"barrow":[{"id":1,"x":1970.6,"y":1.48,"x2":1972.75,"y2":1.17}]
},
"vconcat":[
{"width":245,"height":133,
"encoding":{
"x":{"field":"x","type":"quantitative","scale":{"domain":[1970,2005],"nice":false,"zero":false},
"axis":{"title":"Time (calendar date)","values":[1970,1971,1972,1973,1974,1975,1976,1977,1978,1979,1980,1981,1982,1983,1984,1985,1986,1987,1988,1989,1990,1991,1992,1993,1994,1995,1996,1997,1998,1999,2000,2001,2002,2003,2004,2005],"labelExpr":"(datum.value-1970)%8==0 ? '12/31/'+(datum.value-1) : ''","labelOverlap":false,"labelFlush":false}},
"y":{"field":"y","type":"quantitative","scale":{"domain":[0,3.2],"nice":false,"zero":true},
"axis":{"title":"HR-A (beats/min)","values":[0,0.5,1,1.5,2,2.5,3],"format":".1f"}}},
"layer":[
{"data":{"name":"tgray"},"mark":{"type":"line","color":"#cccccc","strokeWidth":0.7,"strokeDash":[2,1.5],"point":{"shape":"square","filled":false,"color":"#b8b8b8","size":9,"strokeWidth":0.7}},"encoding":{"detail":{"field":"g"}}},
{"data":{"name":"tpink"},"mark":{"type":"line","color":"#f2a6bd","strokeWidth":0.7,"strokeDash":[2,1.5],"point":{"shape":"circle","filled":false,"color":"#eb96b0","size":6,"strokeWidth":0.7}},"encoding":{"detail":{"field":"g"}}},
{"data":{"name":"tblue"},"mark":{"type":"line","color":"#3d6fd6","strokeWidth":0.8,"point":{"shape":"diamond","filled":false,"color":"#3d6fd6","size":7,"strokeWidth":0.7}},"encoding":{"detail":{"field":"g"}}},
{"data":{"name":"tmag"},"mark":{"type":"point","shape":"circle","filled":true,"color":"#e03ce0","size":10}},
{"data":{"name":"tred"},"mark":{"type":"line","color":"#e41c1c","strokeWidth":0.8,"strokeDash":[3,1.5],"point":{"shape":"circle","filled":true,"color":"#e41c1c","size":8}},"encoding":{"detail":{"field":"g"}}},
{"data":{"name":"tnavy"},"mark":{"type":"line","color":"#1c1c78","strokeWidth":1,"point":{"shape":"diamond","filled":true,"color":"#1c1c78","size":8}},"encoding":{"detail":{"field":"g"}}},
{"data":{"name":"tblack"},"mark":{"type":"line","color":"#000000","strokeWidth":0.8,"point":{"shape":"square","filled":true,"color":"#000000","size":10}},"encoding":{"detail":{"field":"g"}}},
{"data":{"name":"tarrow"},"mark":{"type":"rule","color":"#000000","strokeWidth":0.8},"encoding":{"x2":{"field":"x2"},"y2":{"field":"y2"}}},
{"data":{"name":"tarrow"},"transform":[{"filter":"datum.id==1"}],"mark":{"type":"point","shape":"triangle","filled":true,"color":"#000000","size":10,"angle":230}},
{"data":{"name":"tarrow"},"transform":[{"filter":"datum.id==2"}],"mark":{"type":"point","shape":"triangle","filled":true,"color":"#000000","size":10,"angle":203}},
{"data":{"name":"tarrow"},"transform":[{"filter":"datum.id==3"}],"mark":{"type":"point","shape":"triangle","filled":true,"color":"#000000","size":10,"angle":198}},
{"data":{"name":"ttext"},"mark":{"type":"text","fontSize":8,"color":"#222222"},"encoding":{"text":{"field":"t"}}}
]},
{"width":233,"height":128,
"layer":[
{"encoding":{
"x":{"field":"x","type":"quantitative","scale":{"domain":[1970,2005],"nice":false,"zero":false},
"axis":{"title":"Time (calendar date)","values":[1970,1971,1972,1973,1974,1975,1976,1977,1978,1979,1980,1981,1982,1983,1984,1985,1986,1987,1988,1989,1990,1991,1992,1993,1994,1995,1996,1997,1998,1999,2000,2001,2002,2003,2004,2005],"labelExpr":"(datum.value-1970)%8==0 ? '12/31/'+(datum.value-1) : ''","labelOverlap":false,"labelFlush":false}},
"y":{"field":"y","type":"quantitative","scale":{"domain":[0,2],"nice":false},
"axis":{"title":"HR-A (beats/min)","values":[0,0.4,0.8,1.2,1.6,2.0],"format":".1f"}}},
"layer":[
{"data":{"name":"bgray"},"mark":{"type":"line","color":"#8c8c8c","strokeWidth":0.7,"strokeDash":[1,1],"point":{"shape":"square","filled":true,"fill":"#ffffff","stroke":"#707070","strokeWidth":0.7,"size":13}},"encoding":{"detail":{"field":"g"}}},
{"data":{"name":"bblack"},"mark":{"type":"line","color":"#222222","strokeWidth":0.7,"point":{"shape":"square","filled":true,"color":"#000000","size":14}},"encoding":{"detail":{"field":"g"}}},
{"data":{"name":"barrow"},"mark":{"type":"rule","color":"#7a7a7a","strokeWidth":0.8},"encoding":{"x2":{"field":"x2"},"y2":{"field":"y2"}}},
{"data":{"name":"barrow"},"mark":{"type":"point","shape":"triangle","filled":true,"color":"#7a7a7a","size":10,"angle":325}}
]},
{"data":{"name":"flare"},"mark":{"type":"line","color":"#000000","strokeWidth":0.7,"point":{"shape":"M-1,-1L1,1M-1,1L1,-1","filled":false,"color":"#000000","size":8,"strokeWidth":0.6}},
"encoding":{
"x":{"field":"x","type":"quantitative","scale":{"domain":[1970,2005],"nice":false,"zero":false},
"axis":{"title":"Time (calendar date)","values":[1970,1971,1972,1973,1974,1975,1976,1977,1978,1979,1980,1981,1982,1983,1984,1985,1986,1987,1988,1989,1990,1991,1992,1993,1994,1995,1996,1997,1998,1999,2000,2001,2002,2003,2004,2005],"labelExpr":"(datum.value-1970)%8==0 ? '12/31/'+(datum.value-1) : ''","labelOverlap":false,"labelFlush":false}},
"y":{"field":"f","type":"quantitative","scale":{"domain":[0,20],"nice":false},
"axis":{"orient":"right","title":"Total Solar Flares (Index)","values":[0,4,8,12,16,20]}}}}
],
"resolve":{"scale":{"y":"independent"}}}
]
}
